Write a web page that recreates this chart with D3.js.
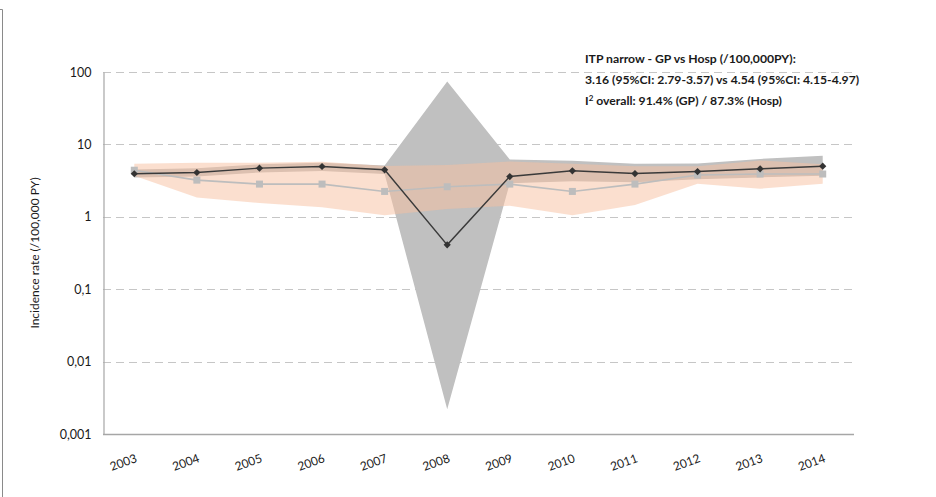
<!DOCTYPE html>
<html>
<head>
<meta charset="utf-8">
<script src="https://cdn.jsdelivr.net/npm/d3@7/dist/d3.min.js"></script>
<style>
  html, body { margin: 0; padding: 0; background: #fff; }
  svg { display: block; font-family: Lato, "Liberation Sans", sans-serif; }
</style>
</head>
<body>
<svg id="chart" width="936" height="497"></svg>
<script>
// Yearly ITP incidence (per 100,000 PY): hospital vs GP, with 95% CI bands
const years = ["2003","2004","2005","2006","2007","2008","2009","2010","2011","2012","2013","2014"];
const hospRate  = [3.93, 4.09, 4.70, 4.95, 4.46, 0.41, 3.60, 4.32, 3.96, 4.22, 4.60, 5.00];
const hospLower = [3.5, 3.6, 4.1, 4.3, 3.9, 0.0022, 2.9, 3.1, 3.0, 3.3, 3.5, 3.7];
const hospUpper = [4.5, 4.7, 5.3, 5.6, 5.1, 74, 6.2, 5.95, 5.4, 5.45, 6.3, 6.95];
const gpRate    = [4.40, 3.21, 2.83, 2.83, 2.24, 2.60, 2.83, 2.24, 2.83, 3.77, 3.90, 3.90];
const gpLower   = [3.7, 1.85, 1.55, 1.35, 1.05, 1.28, 1.42, 1.05, 1.45, 2.85, 2.44, 2.85];
const gpUpper   = [5.4, 5.6, 5.6, 5.75, 5.05, 5.2, 5.8, 5.4, 5.0, 5.0, 6.0, 5.3];
const yTicks = [0.001, 0.01, 0.1, 1, 10, 100];
const yTickLabels = ["0,001", "0,01", "0,1", "1", "10", "100"];
const yTitle = "Incidence rate (/100,000 PY)";
const noteLines = [
  "ITP narrow - GP vs Hosp (/100,000PY):",
  "3.16 (95%CI: 2.79-3.57) vs 4.54 (95%CI: 4.15-4.97)"
];

const svg = d3.select("#chart");

// outer frame edge
svg.append("path").attr("d", "M0,9.5 H2.5 V497").attr("fill", "none")
  .attr("stroke", "#8a8a8a").attr("stroke-width", 1);

const plot = { left: 103, right: 854, top: 72, bottom: 434 };

const x = d3.scalePoint().domain(years).range([plot.left, plot.right]).padding(0.5);
const y = d3.scaleLog().domain([0.001, 100]).range([plot.bottom, plot.top]);

// dashed gridlines
svg.append("g").selectAll("line").data(yTicks.filter(d => d > 0.001)).join("line")
  .attr("x1", plot.left).attr("x2", plot.right)
  .attr("y1", d => Math.round(y(d)) + 0.5).attr("y2", d => Math.round(y(d)) + 0.5)
  .attr("stroke", "#c6c6c6").attr("stroke-width", 1.2).attr("stroke-dasharray", "8,5");

// CI bands
const band = (lo, hi) => d3.area()
  .x((d, i) => x(years[i]))
  .y0((d, i) => y(lo[i]))
  .y1((d, i) => y(hi[i]));

svg.append("path").attr("d", band(hospLower, hospUpper)(years))
  .attr("fill", "#c0c0c0");
svg.append("path").attr("d", band(gpLower, gpUpper)(years))
  .attr("fill", "#f8c0a0").attr("fill-opacity", 0.5);

// axes
const yAxis = d3.axisLeft(y).tickValues(yTicks).tickSize(0).tickPadding(12)
  .tickFormat((d, i) => yTickLabels[i]);
const gy = svg.append("g").attr("transform", `translate(${plot.left + 0.5},0)`).call(yAxis);
gy.select(".domain").attr("stroke", "#a6a6a6").attr("stroke-width", 1.2);
gy.selectAll("text").attr("font-size", 12.5).attr("fill", "#1a1a1a").attr("font-family", "Lato, sans-serif");

const xAxis = d3.axisBottom(x).tickSize(0).tickPadding(0);
const gx = svg.append("g").attr("transform", `translate(0,${plot.bottom + 0.5})`).call(xAxis);
gx.select(".domain").attr("d", `M${plot.left},0H${plot.right}`)
  .attr("stroke", "#a6a6a6").attr("stroke-width", 1.5);
gx.selectAll("text")
  .attr("font-size", 12).attr("fill", "#1a1a1a").attr("font-family", "Lato, sans-serif")
  .attr("text-anchor", "end").attr("dy", 0)
  .attr("transform", "translate(3,27) rotate(-20)");

// y title
svg.append("text")
  .attr("transform", `translate(39,253) rotate(-90)`)
  .attr("text-anchor", "middle").attr("font-size", 12).attr("fill", "#1a1a1a")
  .text(yTitle);

// series lines
const line = vals => d3.line().x((d, i) => x(years[i])).y((d, i) => y(vals[i]))(years);

svg.append("path").attr("d", line(gpRate)).attr("fill", "none")
  .attr("stroke", "#bdbdbd").attr("stroke-width", 1.6);
svg.append("g").selectAll("rect").data(gpRate).join("rect")
  .attr("x", (d, i) => x(years[i]) - 3.5).attr("y", d => y(d) - 3.5)
  .attr("width", 7).attr("height", 7).attr("fill", "#bdbdbd");

svg.append("path").attr("d", line(hospRate)).attr("fill", "none")
  .attr("stroke", "#3a3a3a").attr("stroke-width", 1.4);
svg.append("g").selectAll("path").data(hospRate).join("path")
  .attr("d", d3.symbol(d3.symbolSquare, 26))
  .attr("transform", (d, i) => `translate(${x(years[i])},${y(d)}) rotate(45)`)
  .attr("fill", "#333");

// annotation
const note = svg.append("text").attr("x", 585).attr("font-size", 12.2)
  .attr("font-weight", "bold").attr("fill", "#1a1a1a");
noteLines.forEach((t, i) => note.append("tspan").attr("x", 585).attr("y", 63 + i * 21).text(t));
const l3 = note.append("tspan").attr("x", 585).attr("y", 105);
l3.append("tspan").text("I");
l3.append("tspan").attr("dy", -4).attr("font-size", 8).text("2");
l3.append("tspan").attr("dy", 4).text(" overall: 91.4% (GP) / 87.3% (Hosp)");
</script>
</body>
</html>
